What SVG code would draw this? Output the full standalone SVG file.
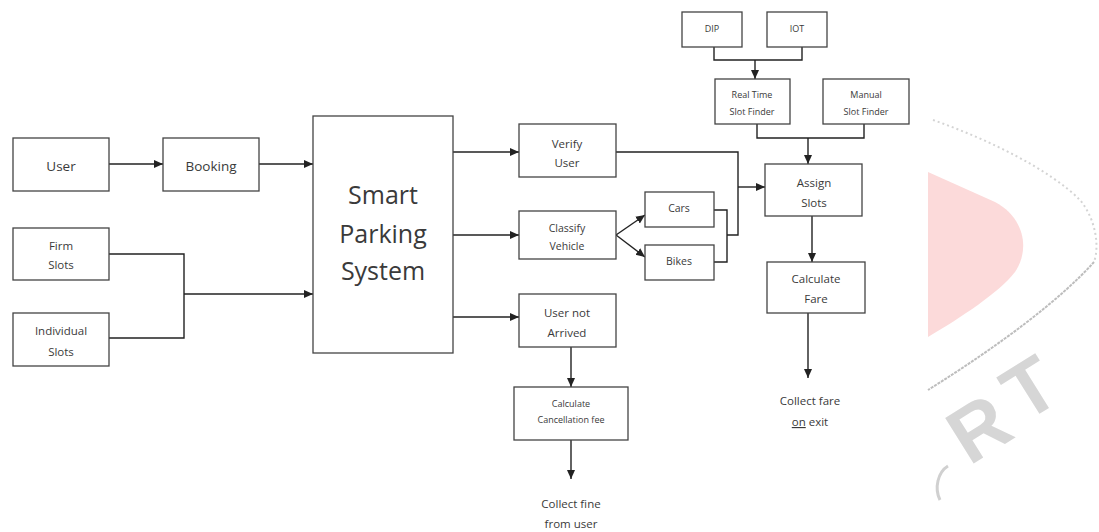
<svg xmlns="http://www.w3.org/2000/svg" width="1099" height="532" viewBox="0 0 1099 532">
<style>
.box{fill:#fff;stroke:#444;stroke-width:1.3}
.t{font-family:"Open Sans","Liberation Sans",sans-serif;fill:#3a3a3a;text-anchor:middle}
.ln{fill:none;stroke:#222;stroke-width:1.4}
.wm{font-family:"Liberation Sans",sans-serif;font-size:78px;font-weight:bold;fill:#d6d6d6;text-anchor:middle}
.s14{font-size:13.5px}.s12{font-size:11.5px}.s11{font-size:10.5px}.s9{font-size:9px}.s25{font-size:25px}
</style>
<defs>
<marker id="ah" markerWidth="10" markerHeight="10" refX="9" refY="5" orient="auto" markerUnits="userSpaceOnUse">
<path d="M0,1 L9,5 L0,9 Z" fill="#222"/>
</marker>
</defs>
<rect width="1099" height="532" fill="#fff"/>
<g id="watermark">
<path d="M928,172 L995,202 C1025,218 1030,250 1015,272 C1000,292 960,318 928,337 Z" fill="#fcdada"/>
<path d="M933,120 C990,140 1050,170 1080,200 C1095,218 1100,245 1094,262" fill="none" stroke="#d4d4d4" stroke-width="2" stroke-dasharray="2,3"/>
<path d="M1094,262 C1060,300 1000,345 928,390" fill="none" stroke="#bdbdbd" stroke-width="2" stroke-dasharray="3,1"/>
<text class="wm" x="980" y="455" transform="rotate(-32 980 430)">R</text>
<text class="wm" x="1030" y="415" transform="rotate(-32 1030 388)">T</text>
<path d="M948,466 C938,472 934,488 940,500" fill="none" stroke="#d0d0d0" stroke-width="3"/>
</g>
<g id="connectors">
<line class="ln" x1="109" y1="164" x2="163" y2="164" marker-end="url(#ah)"/>
<line class="ln" x1="259" y1="164" x2="313" y2="164" marker-end="url(#ah)"/>
<polyline class="ln" points="109,254 184,254 184,338 109,338"/>
<line class="ln" x1="184" y1="294" x2="313" y2="294" marker-end="url(#ah)"/>
<line class="ln" x1="453" y1="152" x2="519" y2="152" marker-end="url(#ah)"/>
<line class="ln" x1="453" y1="235" x2="519" y2="235" marker-end="url(#ah)"/>
<line class="ln" x1="453" y1="317" x2="519" y2="317" marker-end="url(#ah)"/>
<line class="ln" x1="616" y1="235" x2="645" y2="215" marker-end="url(#ah)"/>
<line class="ln" x1="616" y1="235" x2="645" y2="257" marker-end="url(#ah)"/>
<polyline class="ln" points="714,210 727,210 727,262 714,262"/>
<polyline class="ln" points="727,235 738,235 738,152 616,152"/>
<line class="ln" x1="738" y1="187" x2="765" y2="187" marker-end="url(#ah)"/>
<polyline class="ln" points="714,47 714,60 802,60 802,47"/>
<line class="ln" x1="755" y1="60" x2="755" y2="79" marker-end="url(#ah)"/>
<polyline class="ln" points="757,124 757,138 864,138 864,124"/>
<line class="ln" x1="808" y1="138" x2="808" y2="164" marker-end="url(#ah)"/>
<line class="ln" x1="812" y1="216" x2="812" y2="262" marker-end="url(#ah)"/>
<line class="ln" x1="808" y1="313" x2="808" y2="378" marker-end="url(#ah)"/>
<line class="ln" x1="571" y1="347" x2="571" y2="387" marker-end="url(#ah)"/>
<line class="ln" x1="571" y1="440" x2="571" y2="479" marker-end="url(#ah)"/>
</g>
<g id="user"><rect class="box" x="13" y="138" width="96" height="53"/><text class="t s14" x="61" y="171">User</text></g>
<g id="booking"><rect class="box" x="163" y="138" width="96" height="53"/><text class="t s14" x="211" y="171">Booking</text></g>
<g id="firm"><rect class="box" x="13" y="228" width="96" height="52"/><text class="t s12" x="61" y="250">Firm</text><text class="t s12" x="61" y="269">Slots</text></g>
<g id="individual"><rect class="box" x="13" y="313" width="96" height="53"/><text class="t s12" x="61" y="335">Individual</text><text class="t s12" x="61" y="356">Slots</text></g>
<g id="sps"><rect class="box" x="313" y="116" width="140" height="237"/><text class="t s25" x="383" y="204">Smart</text><text class="t s25" x="383" y="243">Parking</text><text class="t s25" x="383" y="280">System</text></g>
<g id="verify"><rect class="box" x="519" y="124" width="97" height="53"/><text class="t s12" x="567" y="148">Verify</text><text class="t s12" x="567" y="167">User</text></g>
<g id="classify"><rect class="box" x="519" y="211" width="97" height="48"/><text class="t s11" x="567" y="232">Classify</text><text class="t s11" x="567" y="250">Vehicle</text></g>
<g id="notarrived"><rect class="box" x="519" y="294" width="97" height="53"/><text class="t s12" x="567" y="317">User not</text><text class="t s12" x="567" y="337">Arrived</text></g>
<g id="cars"><rect class="box" x="645" y="192" width="69" height="35"/><text class="t s11" x="679" y="212">Cars</text></g>
<g id="bikes"><rect class="box" x="645" y="245" width="69" height="35"/><text class="t s11" x="679" y="265">Bikes</text></g>
<g id="dip"><rect class="box" x="682" y="12" width="60" height="35"/><text class="t s9" x="712" y="32">DIP</text></g>
<g id="iot"><rect class="box" x="767" y="12" width="60" height="35"/><text class="t s9" x="797" y="32">IOT</text></g>
<g id="realtime"><rect class="box" x="715" y="79" width="75" height="45"/><text class="t s9" x="752" y="98">Real Time</text><text class="t s9" x="752" y="115">Slot Finder</text></g>
<g id="manual"><rect class="box" x="823" y="79" width="86" height="45"/><text class="t s9" x="866" y="98">Manual</text><text class="t s9" x="866" y="115">Slot Finder</text></g>
<g id="assign"><rect class="box" x="765" y="164" width="97" height="52"/><text class="t s12" x="814" y="187">Assign</text><text class="t s12" x="814" y="207">Slots</text></g>
<g id="fare"><rect class="box" x="767" y="262" width="98" height="51"/><text class="t s12" x="816" y="283">Calculate</text><text class="t s12" x="816" y="303">Fare</text></g>
<g id="collectfare"><text class="t s12" x="810" y="405">Collect fare</text><text class="t s12" x="810" y="426"><tspan text-decoration="underline">on</tspan> exit</text></g>
<g id="cancel"><rect class="box" x="514" y="387" width="114" height="53"/><text class="t s9" x="571" y="407">Calculate</text><text class="t s9" x="571" y="423">Cancellation fee</text></g>
<g id="collectfine"><text class="t s12" x="571" y="508">Collect fine</text><text class="t s12" x="571" y="528">from user</text></g>
</svg>
